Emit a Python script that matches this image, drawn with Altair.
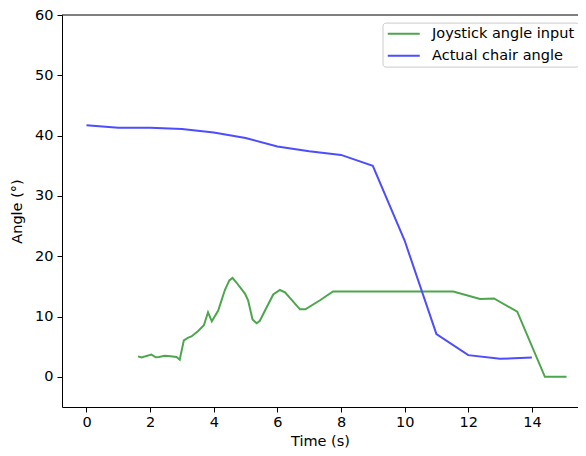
import altair as alt
import pandas as pd

# Joystick angle input (green)
joy_t = [1.62, 1.73, 2.04, 2.18, 2.28, 2.46, 2.64, 2.83, 2.93, 3.06, 3.2, 3.3, 3.51, 3.69,
         3.82, 3.94, 4.14, 4.35, 4.49, 4.59, 4.72, 4.98, 5.08, 5.22, 5.35, 5.45, 5.64, 5.87,
         6.08, 6.24, 6.71, 6.88, 7.34, 7.75, 11.53, 12.37, 12.81, 13.54, 14.41, 15.09]
joy_v = [3.4, 3.2, 3.7, 3.25, 3.3, 3.5, 3.4, 3.3, 2.85, 6.06, 6.5, 6.7, 7.6, 8.55,
         10.7, 9.2, 11.0, 14.4, 16.0, 16.4, 15.6, 13.8, 12.7, 9.5, 8.9, 9.3, 11.3, 13.65,
         14.4, 14.0, 11.2, 11.2, 12.7, 14.15, 14.15, 12.9, 13.0, 10.8, 0.0, 0.0]

# Actual chair angle (blue)
chair_t = [0, 1, 2, 3, 4, 5, 6, 7, 8, 9, 10, 11, 12, 13, 14]
chair_v = [41.7, 41.3, 41.3, 41.1, 40.5, 39.6, 38.2, 37.4, 36.8, 35.0, 22.6, 7.1, 3.6, 3.0, 3.2]

series_names = ["Joystick angle input", "Actual chair angle"]
series_colors = ["#4da64d", "#4d4dff"]

x_ticks = [0, 2, 4, 6, 8, 10, 12, 14]
y_ticks = [0, 10, 20, 30, 40, 50, 60]

df = pd.concat([
    pd.DataFrame({"t": joy_t, "v": joy_v, "series": series_names[0]}),
    pd.DataFrame({"t": chair_t, "v": chair_v, "series": series_names[1]}),
])

FONT = "DejaVu Sans"
FS = 14.5

xs = alt.Scale(domain=[-0.77, 15.45], nice=False, zero=False)
ys = alt.Scale(domain=[-5, 60], nice=False, zero=False)

lines = alt.Chart(df).mark_line(strokeWidth=2).encode(
    x=alt.X("t:Q", scale=xs, title="Time (s)",
            axis=alt.Axis(values=x_ticks, grid=False, domainColor="black", tickColor="black",
                          tickSize=5, labelPadding=3, labelFontSize=FS, labelFont=FONT,
                          labelColor="black", titleFont=FONT, titleFontSize=FS,
                          titleFontWeight="normal", titleColor="black", titlePadding=6,
                          labelFlush=False)),
    y=alt.Y("v:Q", scale=ys, title="Angle (°)",
            axis=alt.Axis(values=y_ticks, grid=False, domainColor="black", tickColor="black",
                          tickSize=5, labelPadding=4, labelFontSize=FS, labelFont=FONT,
                          labelColor="black", titleFont=FONT, titleFontSize=FS,
                          titleFontWeight="normal", titleColor="black", titlePadding=10,
                          labelFlush=False)),
    color=alt.Color("series:N",
                    scale=alt.Scale(domain=series_names, range=series_colors),
                    sort=series_names,
                    legend=alt.Legend(title=None, orient="none", legendX=320.5, legendY=7.6,
                                      symbolType="M-1.2,0H5.2", symbolSize=100, symbolStrokeWidth=2,
                                      labelFont=FONT, labelFontSize=FS, labelColor="black",
                                      rowPadding=7, padding=4, fillColor="white",
                                      strokeColor="#cccccc", cornerRadius=3, labelOffset=31,
                                      labelLimit=300)),
    detail="series:N",
)

top_spine = alt.Chart(pd.DataFrame({"y": [60]})).mark_rule(color="black", strokeWidth=1).encode(
    y=alt.Y("y:Q", scale=ys)
)

chart = alt.layer(lines, top_spine).properties(
    width=516, height=392,
    autosize=alt.AutoSizeParams(type="none"),
    padding={"left": 54, "top": 7, "right": 0, "bottom": 41},
    background="white",
).configure_view(stroke=None)

chart.save("out.html", embed_options={"renderer": "svg", "actions": False})
